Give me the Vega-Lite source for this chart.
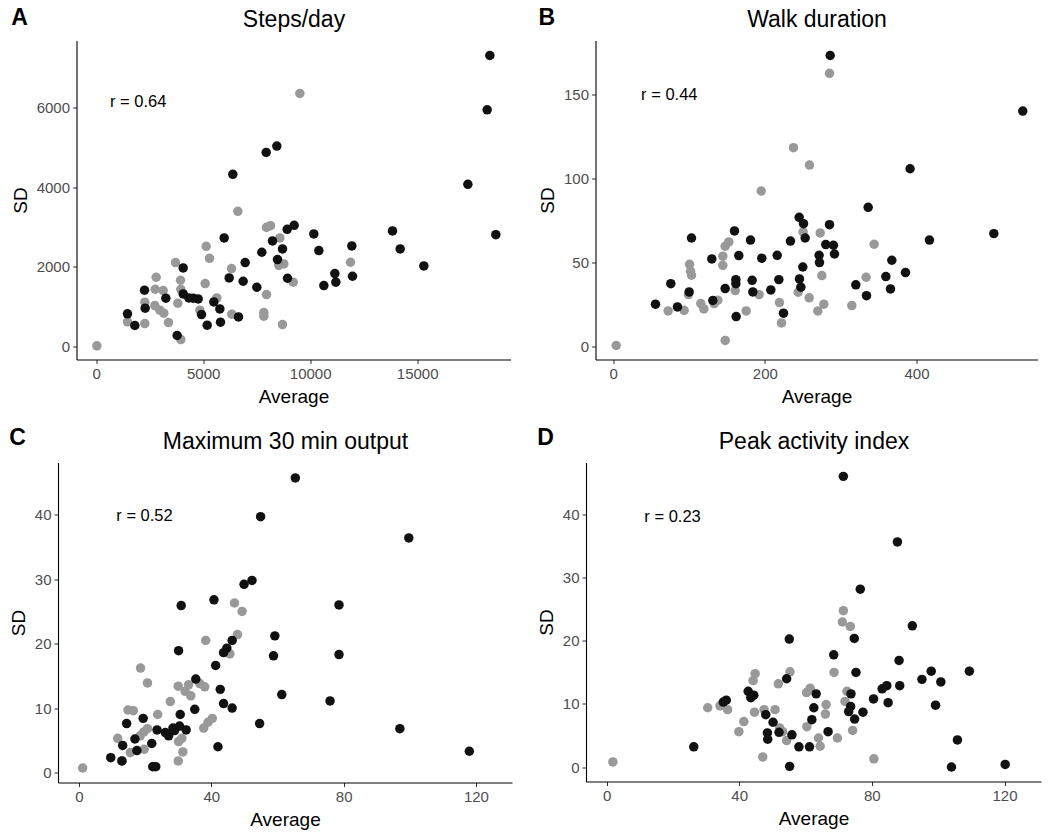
{
"$schema": "https://vega.github.io/schema/vega-lite/v6.json",
"background": "white",
"padding": {"left": 9, "top": 6.5, "right": 0, "bottom": 0},
"datasets": {
"steps": [
{"avg":9517,"sd":6351,"group":"G1"},{"avg":6620,"sd":3389,"group":"G1"},{"avg":7960,"sd":2987,"group":"G1"},{"avg":8146,"sd":3029,"group":"G1"},{"avg":8583,"sd":2720,"group":"G1"},{"avg":8536,"sd":2033,"group":"G1"},{"avg":8769,"sd":2067,"group":"G1"},{"avg":9206,"sd":1607,"group":"G1"},{"avg":11885,"sd":2109,"group":"G1"},{"avg":7960,"sd":1297,"group":"G1"},{"avg":7835,"sd":845,"group":"G1"},{"avg":7835,"sd":753,"group":"G1"},{"avg":8707,"sd":544,"group":"G1"},{"avg":6324,"sd":1950,"group":"G1"},{"avg":6340,"sd":803,"group":"G1"},{"avg":5639,"sd":1213,"group":"G1"},{"avg":5296,"sd":2209,"group":"G1"},{"avg":5140,"sd":2510,"group":"G1"},{"avg":5093,"sd":1573,"group":"G1"},{"avg":4844,"sd":904,"group":"G1"},{"avg":3941,"sd":1657,"group":"G1"},{"avg":3956,"sd":1431,"group":"G1"},{"avg":3707,"sd":2100,"group":"G1"},{"avg":3816,"sd":1079,"group":"G1"},{"avg":3956,"sd":167,"group":"G1"},{"avg":2804,"sd":1732,"group":"G1"},{"avg":2757,"sd":1431,"group":"G1"},{"avg":3131,"sd":1397,"group":"G1"},{"avg":2274,"sd":1105,"group":"G1"},{"avg":2741,"sd":1021,"group":"G1"},{"avg":2975,"sd":904,"group":"G1"},{"avg":3162,"sd":828,"group":"G1"},{"avg":3380,"sd":594,"group":"G1"},{"avg":2274,"sd":569,"group":"G1"},{"avg":1464,"sd":611,"group":"G1"},{"avg":31,"sd":8,"group":"G1"},
{"avg":18396,"sd":7305,"group":"G2"},{"avg":18271,"sd":5941,"group":"G2"},{"avg":17368,"sd":4067,"group":"G2"},{"avg":18676,"sd":2803,"group":"G2"},{"avg":13847,"sd":2895,"group":"G2"},{"avg":14206,"sd":2444,"group":"G2"},{"avg":15312,"sd":2017,"group":"G2"},{"avg":11947,"sd":2519,"group":"G2"},{"avg":11978,"sd":1757,"group":"G2"},{"avg":11153,"sd":1824,"group":"G2"},{"avg":11199,"sd":1607,"group":"G2"},{"avg":10639,"sd":1523,"group":"G2"},{"avg":10171,"sd":2820,"group":"G2"},{"avg":10405,"sd":2402,"group":"G2"},{"avg":9252,"sd":3038,"group":"G2"},{"avg":8925,"sd":2937,"group":"G2"},{"avg":8707,"sd":2444,"group":"G2"},{"avg":8240,"sd":2644,"group":"G2"},{"avg":8474,"sd":2176,"group":"G2"},{"avg":8941,"sd":1707,"group":"G2"},{"avg":7741,"sd":2360,"group":"G2"},{"avg":7508,"sd":1481,"group":"G2"},{"avg":6963,"sd":2100,"group":"G2"},{"avg":6869,"sd":1632,"group":"G2"},{"avg":6215,"sd":1715,"group":"G2"},{"avg":5981,"sd":2720,"group":"G2"},{"avg":6386,"sd":4318,"group":"G2"},{"avg":7944,"sd":4870,"group":"G2"},{"avg":8442,"sd":5029,"group":"G2"},{"avg":6651,"sd":736,"group":"G2"},{"avg":5810,"sd":603,"group":"G2"},{"avg":5779,"sd":937,"group":"G2"},{"avg":5498,"sd":1113,"group":"G2"},{"avg":5187,"sd":527,"group":"G2"},{"avg":4922,"sd":795,"group":"G2"},{"avg":4766,"sd":1188,"group":"G2"},{"avg":4533,"sd":1205,"group":"G2"},{"avg":4330,"sd":1213,"group":"G2"},{"avg":4065,"sd":1314,"group":"G2"},{"avg":4065,"sd":1967,"group":"G2"},{"avg":3785,"sd":268,"group":"G2"},{"avg":3255,"sd":1205,"group":"G2"},{"avg":2290,"sd":954,"group":"G2"},{"avg":2259,"sd":1406,"group":"G2"},{"avg":1807,"sd":519,"group":"G2"},{"avg":1464,"sd":812,"group":"G2"}
],
"walk": [
{"avg":285.3,"sd":162.3,"group":"G1"},{"avg":237.8,"sd":118.2,"group":"G1"},{"avg":258.9,"sd":107.9,"group":"G1"},{"avg":195.2,"sd":92.5,"group":"G1"},{"avg":344.2,"sd":60.9,"group":"G1"},{"avg":273.0,"sd":67.6,"group":"G1"},{"avg":250.5,"sd":68.2,"group":"G1"},{"avg":275.2,"sd":42.3,"group":"G1"},{"avg":333.6,"sd":41.3,"group":"G1"},{"avg":314.7,"sd":24.5,"group":"G1"},{"avg":277.8,"sd":25.3,"group":"G1"},{"avg":269.9,"sd":21.3,"group":"G1"},{"avg":258.5,"sd":29.1,"group":"G1"},{"avg":244.0,"sd":32.4,"group":"G1"},{"avg":219.3,"sd":26.3,"group":"G1"},{"avg":222.0,"sd":14.2,"group":"G1"},{"avg":192.5,"sd":31.0,"group":"G1"},{"avg":175.4,"sd":21.3,"group":"G1"},{"avg":160.9,"sd":33.4,"group":"G1"},{"avg":147.7,"sd":3.8,"group":"G1"},{"avg":152.5,"sd":62.3,"group":"G1"},{"avg":147.7,"sd":59.7,"group":"G1"},{"avg":144.6,"sd":53.8,"group":"G1"},{"avg":144.6,"sd":48.4,"group":"G1"},{"avg":138.0,"sd":27.7,"group":"G1"},{"avg":133.2,"sd":25.7,"group":"G1"},{"avg":115.6,"sd":25.7,"group":"G1"},{"avg":119.6,"sd":22.5,"group":"G1"},{"avg":100.7,"sd":49.0,"group":"G1"},{"avg":102.0,"sd":44.9,"group":"G1"},{"avg":103.3,"sd":42.5,"group":"G1"},{"avg":99.3,"sd":31.0,"group":"G1"},{"avg":93.6,"sd":21.7,"group":"G1"},{"avg":72.5,"sd":21.3,"group":"G1"},{"avg":4.0,"sd":0.8,"group":"G1"},
{"avg":286.2,"sd":172.9,"group":"G2"},{"avg":540.2,"sd":139.9,"group":"G2"},{"avg":391.6,"sd":105.7,"group":"G2"},{"avg":336.3,"sd":82.8,"group":"G2"},{"avg":502.0,"sd":67.2,"group":"G2"},{"avg":417.1,"sd":63.4,"group":"G2"},{"avg":367.5,"sd":51.4,"group":"G2"},{"avg":385.5,"sd":44.1,"group":"G2"},{"avg":359.6,"sd":41.7,"group":"G2"},{"avg":365.7,"sd":34.4,"group":"G2"},{"avg":320.0,"sd":36.8,"group":"G2"},{"avg":334.1,"sd":30.4,"group":"G2"},{"avg":285.3,"sd":72.5,"group":"G2"},{"avg":280.4,"sd":60.7,"group":"G2"},{"avg":290.5,"sd":60.3,"group":"G2"},{"avg":291.9,"sd":55.1,"group":"G2"},{"avg":271.6,"sd":54.3,"group":"G2"},{"avg":272.1,"sd":50.0,"group":"G2"},{"avg":245.3,"sd":76.9,"group":"G2"},{"avg":251.0,"sd":73.1,"group":"G2"},{"avg":253.2,"sd":64.6,"group":"G2"},{"avg":233.8,"sd":62.8,"group":"G2"},{"avg":250.1,"sd":47.4,"group":"G2"},{"avg":245.7,"sd":40.3,"group":"G2"},{"avg":247.5,"sd":35.4,"group":"G2"},{"avg":224.6,"sd":20.0,"group":"G2"},{"avg":216.3,"sd":54.3,"group":"G2"},{"avg":218.5,"sd":39.9,"group":"G2"},{"avg":207.9,"sd":33.8,"group":"G2"},{"avg":196.0,"sd":52.6,"group":"G2"},{"avg":183.3,"sd":39.5,"group":"G2"},{"avg":184.2,"sd":32.6,"group":"G2"},{"avg":181.1,"sd":63.4,"group":"G2"},{"avg":160.0,"sd":68.8,"group":"G2"},{"avg":165.7,"sd":54.2,"group":"G2"},{"avg":130.1,"sd":52.2,"group":"G2"},{"avg":161.8,"sd":39.9,"group":"G2"},{"avg":161.8,"sd":37.5,"group":"G2"},{"avg":147.7,"sd":34.6,"group":"G2"},{"avg":162.2,"sd":18.0,"group":"G2"},{"avg":131.4,"sd":27.5,"group":"G2"},{"avg":100.2,"sd":32.6,"group":"G2"},{"avg":103.3,"sd":64.6,"group":"G2"},{"avg":76.0,"sd":37.5,"group":"G2"},{"avg":84.8,"sd":23.7,"group":"G2"},{"avg":55.8,"sd":25.3,"group":"G2"}
],
"max30": [
{"avg":47.0,"sd":26.3,"group":"G1"},{"avg":49.3,"sd":25.0,"group":"G1"},{"avg":47.9,"sd":21.4,"group":"G1"},{"avg":45.6,"sd":18.4,"group":"G1"},{"avg":38.3,"sd":20.5,"group":"G1"},{"avg":18.6,"sd":16.2,"group":"G1"},{"avg":20.7,"sd":13.9,"group":"G1"},{"avg":30.0,"sd":13.4,"group":"G1"},{"avg":32.1,"sd":12.6,"group":"G1"},{"avg":33.1,"sd":13.6,"group":"G1"},{"avg":33.8,"sd":11.9,"group":"G1"},{"avg":36.5,"sd":13.8,"group":"G1"},{"avg":38.0,"sd":13.3,"group":"G1"},{"avg":27.6,"sd":11.0,"group":"G1"},{"avg":23.8,"sd":9.0,"group":"G1"},{"avg":14.8,"sd":9.7,"group":"G1"},{"avg":16.4,"sd":9.6,"group":"G1"},{"avg":40.3,"sd":8.4,"group":"G1"},{"avg":39.0,"sd":7.8,"group":"G1"},{"avg":37.7,"sd":6.9,"group":"G1"},{"avg":30.0,"sd":1.8,"group":"G1"},{"avg":31.4,"sd":3.2,"group":"G1"},{"avg":30.1,"sd":4.8,"group":"G1"},{"avg":31.1,"sd":5.3,"group":"G1"},{"avg":20.7,"sd":6.8,"group":"G1"},{"avg":19.6,"sd":6.3,"group":"G1"},{"avg":18.5,"sd":5.7,"group":"G1"},{"avg":11.7,"sd":5.3,"group":"G1"},{"avg":19.7,"sd":3.6,"group":"G1"},{"avg":15.5,"sd":3.1,"group":"G1"},{"avg":12.9,"sd":1.8,"group":"G1"},{"avg":1.1,"sd":0.7,"group":"G1"},
{"avg":65.4,"sd":45.7,"group":"G2"},{"avg":54.9,"sd":39.7,"group":"G2"},{"avg":99.7,"sd":36.4,"group":"G2"},{"avg":52.3,"sd":29.8,"group":"G2"},{"avg":49.9,"sd":29.2,"group":"G2"},{"avg":78.6,"sd":26.0,"group":"G2"},{"avg":30.9,"sd":25.9,"group":"G2"},{"avg":40.8,"sd":26.8,"group":"G2"},{"avg":59.2,"sd":21.2,"group":"G2"},{"avg":58.8,"sd":18.1,"group":"G2"},{"avg":78.6,"sd":18.3,"group":"G2"},{"avg":30.1,"sd":18.9,"group":"G2"},{"avg":46.3,"sd":20.5,"group":"G2"},{"avg":44.7,"sd":19.3,"group":"G2"},{"avg":43.7,"sd":18.6,"group":"G2"},{"avg":41.3,"sd":16.6,"group":"G2"},{"avg":35.3,"sd":14.5,"group":"G2"},{"avg":42.7,"sd":12.9,"group":"G2"},{"avg":61.3,"sd":12.1,"group":"G2"},{"avg":43.7,"sd":10.7,"group":"G2"},{"avg":46.3,"sd":10.0,"group":"G2"},{"avg":75.9,"sd":11.1,"group":"G2"},{"avg":35.0,"sd":9.8,"group":"G2"},{"avg":30.6,"sd":9.0,"group":"G2"},{"avg":54.6,"sd":7.6,"group":"G2"},{"avg":97.0,"sd":6.8,"group":"G2"},{"avg":118.0,"sd":3.3,"group":"G2"},{"avg":42.0,"sd":4.0,"group":"G2"},{"avg":19.4,"sd":8.4,"group":"G2"},{"avg":14.4,"sd":7.6,"group":"G2"},{"avg":23.6,"sd":6.6,"group":"G2"},{"avg":26.1,"sd":6.2,"group":"G2"},{"avg":27.1,"sd":5.7,"group":"G2"},{"avg":28.4,"sd":6.9,"group":"G2"},{"avg":30.4,"sd":7.2,"group":"G2"},{"avg":28.9,"sd":6.5,"group":"G2"},{"avg":32.4,"sd":6.6,"group":"G2"},{"avg":16.9,"sd":5.2,"group":"G2"},{"avg":22.0,"sd":4.5,"group":"G2"},{"avg":13.2,"sd":4.2,"group":"G2"},{"avg":17.5,"sd":3.4,"group":"G2"},{"avg":9.6,"sd":2.3,"group":"G2"},{"avg":13.0,"sd":1.8,"group":"G2"},{"avg":22.3,"sd":0.9,"group":"G2"},{"avg":23.2,"sd":0.9,"group":"G2"}
],
"peak": [
{"avg":71.4,"sd":24.8,"group":"G1"},{"avg":71.1,"sd":23.0,"group":"G1"},{"avg":73.5,"sd":22.3,"group":"G1"},{"avg":68.6,"sd":15.0,"group":"G1"},{"avg":72.5,"sd":12.0,"group":"G1"},{"avg":71.9,"sd":10.4,"group":"G1"},{"avg":74.2,"sd":5.8,"group":"G1"},{"avg":69.6,"sd":4.6,"group":"G1"},{"avg":66.2,"sd":9.9,"group":"G1"},{"avg":66.0,"sd":8.4,"group":"G1"},{"avg":61.4,"sd":12.5,"group":"G1"},{"avg":60.3,"sd":11.8,"group":"G1"},{"avg":60.4,"sd":6.4,"group":"G1"},{"avg":63.9,"sd":4.6,"group":"G1"},{"avg":64.4,"sd":3.3,"group":"G1"},{"avg":80.6,"sd":1.3,"group":"G1"},{"avg":55.3,"sd":15.1,"group":"G1"},{"avg":51.8,"sd":13.2,"group":"G1"},{"avg":50.8,"sd":9.1,"group":"G1"},{"avg":47.5,"sd":9.1,"group":"G1"},{"avg":52.2,"sd":6.2,"group":"G1"},{"avg":53.1,"sd":5.6,"group":"G1"},{"avg":54.3,"sd":4.2,"group":"G1"},{"avg":47.1,"sd":1.6,"group":"G1"},{"avg":44.8,"sd":14.8,"group":"G1"},{"avg":44.2,"sd":13.7,"group":"G1"},{"avg":44.6,"sd":8.7,"group":"G1"},{"avg":41.4,"sd":7.2,"group":"G1"},{"avg":39.9,"sd":5.6,"group":"G1"},{"avg":30.5,"sd":9.4,"group":"G1"},{"avg":34.2,"sd":9.7,"group":"G1"},{"avg":36.5,"sd":9.1,"group":"G1"},{"avg":1.9,"sd":0.8,"group":"G1"},
{"avg":71.4,"sd":46.1,"group":"G2"},{"avg":87.7,"sd":35.7,"group":"G2"},{"avg":76.5,"sd":28.2,"group":"G2"},{"avg":92.2,"sd":22.4,"group":"G2"},{"avg":55.1,"sd":20.3,"group":"G2"},{"avg":74.7,"sd":20.4,"group":"G2"},{"avg":68.5,"sd":17.8,"group":"G2"},{"avg":88.2,"sd":16.9,"group":"G2"},{"avg":109.4,"sd":15.2,"group":"G2"},{"avg":97.9,"sd":15.2,"group":"G2"},{"avg":95.1,"sd":13.9,"group":"G2"},{"avg":100.8,"sd":13.5,"group":"G2"},{"avg":75.2,"sd":15.0,"group":"G2"},{"avg":88.4,"sd":12.9,"group":"G2"},{"avg":84.5,"sd":12.9,"group":"G2"},{"avg":83.1,"sd":12.4,"group":"G2"},{"avg":80.5,"sd":10.8,"group":"G2"},{"avg":84.9,"sd":10.2,"group":"G2"},{"avg":99.2,"sd":9.8,"group":"G2"},{"avg":54.3,"sd":14.0,"group":"G2"},{"avg":73.7,"sd":11.6,"group":"G2"},{"avg":63.2,"sd":11.6,"group":"G2"},{"avg":73.6,"sd":9.6,"group":"G2"},{"avg":73.0,"sd":8.8,"group":"G2"},{"avg":77.3,"sd":8.7,"group":"G2"},{"avg":74.8,"sd":7.6,"group":"G2"},{"avg":62.5,"sd":9.4,"group":"G2"},{"avg":61.9,"sd":7.5,"group":"G2"},{"avg":66.8,"sd":5.6,"group":"G2"},{"avg":61.2,"sd":3.2,"group":"G2"},{"avg":58.0,"sd":3.2,"group":"G2"},{"avg":55.9,"sd":5.1,"group":"G2"},{"avg":55.2,"sd":0.1,"group":"G2"},{"avg":52.0,"sd":5.5,"group":"G2"},{"avg":50.2,"sd":7.1,"group":"G2"},{"avg":48.0,"sd":8.3,"group":"G2"},{"avg":48.5,"sd":5.4,"group":"G2"},{"avg":48.6,"sd":4.4,"group":"G2"},{"avg":42.7,"sd":12.0,"group":"G2"},{"avg":44.4,"sd":11.4,"group":"G2"},{"avg":43.5,"sd":11.0,"group":"G2"},{"avg":35.2,"sd":10.3,"group":"G2"},{"avg":36.1,"sd":10.6,"group":"G2"},{"avg":26.3,"sd":3.2,"group":"G2"},{"avg":104.0,"sd":0.0,"group":"G2"},{"avg":105.8,"sd":4.3,"group":"G2"},{"avg":120.2,"sd":0.4,"group":"G2"}
]
},
"center": true,
"spacing": 20,
"vconcat": [
{"spacing": 27, "hconcat": [
{"width": 434, "height": 319,
 "title": {"text": "A", "anchor": "start", "frame": "bounds", "fontSize": 23, "fontWeight": "bold", "offset": 0, "baseline": "alphabetic", "dy": 39},
 "layer": [
  {"data": {"name": "steps"}, "mark": {"type": "circle", "size": 90, "opacity": 1},
   "encoding": {
    "x": {"field": "avg", "type": "quantitative", "scale": {"domain": [-919, 19361], "nice": false, "zero": false}, "axis": {"values": [0, 5000, 10000, 15000], "format": "d", "title": "Average"}},
    "y": {"field": "sd", "type": "quantitative", "scale": {"domain": [-335, 7682], "nice": false, "zero": false}, "axis": {"values": [0, 2000, 4000, 6000], "format": "d", "title": "SD"}},
    "color": {"field": "group", "type": "nominal", "scale": {"domain": ["G1", "G2"], "range": ["#999999", "#111111"]}, "legend": null}}},
  {"data": {"values": [{}]}, "mark": {"type": "text", "fontSize": 16.5, "color": "black", "align": "center", "baseline": "middle"},
   "encoding": {
    "x": {"datum": 1960, "type": "quantitative", "scale": {"domain": [-919, 19361], "nice": false, "zero": false}, "axis": {"orient": "top", "title": "Steps/day", "domain": false, "ticks": false, "labels": false, "titleFontSize": 23, "titlePadding": 14, "titleBaseline": "alphabetic"}},
    "y": {"datum": 6130, "type": "quantitative"},
    "text": {"value": "r = 0.64"}}}
 ],
 "resolve": {"axis": {"x": "independent"}}},
{"width": 442, "height": 319,
 "title": {"text": "B", "anchor": "start", "frame": "bounds", "fontSize": 23, "fontWeight": "bold", "offset": 0, "baseline": "alphabetic", "dy": 39},
 "layer": [
  {"data": {"name": "walk"}, "mark": {"type": "circle", "size": 90, "opacity": 1},
   "encoding": {
    "x": {"field": "avg", "type": "quantitative", "scale": {"domain": [-23.3, 559.6], "nice": false, "zero": false}, "axis": {"values": [0, 200, 400], "format": "d", "title": "Average"}},
    "y": {"field": "sd", "type": "quantitative", "scale": {"domain": [-7.5, 181.8], "nice": false, "zero": false}, "axis": {"values": [0, 50, 100, 150], "format": "d", "title": "SD"}},
    "color": {"field": "group", "type": "nominal", "scale": {"domain": ["G1", "G2"], "range": ["#999999", "#111111"]}, "legend": null}}},
  {"data": {"values": [{}]}, "mark": {"type": "text", "fontSize": 16.5, "color": "black", "align": "center", "baseline": "middle"},
   "encoding": {
    "x": {"datum": 74, "type": "quantitative", "scale": {"domain": [-23.3, 559.6], "nice": false, "zero": false}, "axis": {"orient": "top", "title": "Walk duration", "domain": false, "ticks": false, "labels": false, "titleFontSize": 23, "titlePadding": 14, "titleBaseline": "alphabetic"}},
    "y": {"datum": 149.2, "type": "quantitative"},
    "text": {"value": "r = 0.44"}}}
 ],
 "resolve": {"axis": {"x": "independent"}}}
]},
{"spacing": 25, "hconcat": [
{"width": 454, "height": 320,
 "title": {"text": "C", "anchor": "start", "frame": "bounds", "fontSize": 23, "fontWeight": "bold", "offset": 0, "baseline": "alphabetic", "dy": 37},
 "layer": [
  {"data": {"name": "max30"}, "mark": {"type": "circle", "size": 90, "opacity": 1},
   "encoding": {
    "x": {"field": "avg", "type": "quantitative", "scale": {"domain": [-6.35, 130.9], "nice": false, "zero": false}, "axis": {"values": [0, 40, 80, 120], "format": "d", "title": "Average"}},
    "y": {"field": "sd", "type": "quantitative", "scale": {"domain": [-1.55, 48.1], "nice": false, "zero": false}, "axis": {"values": [0, 10, 20, 30, 40], "format": "d", "title": "SD"}},
    "color": {"field": "group", "type": "nominal", "scale": {"domain": ["G1", "G2"], "range": ["#999999", "#111111"]}, "legend": null}}},
  {"data": {"values": [{}]}, "mark": {"type": "text", "fontSize": 16.5, "color": "black", "align": "center", "baseline": "middle"},
   "encoding": {
    "x": {"datum": 19.8, "type": "quantitative", "scale": {"domain": [-6.35, 130.9], "nice": false, "zero": false}, "axis": {"orient": "top", "title": "Maximum 30 min output", "domain": false, "ticks": false, "labels": false, "titleFontSize": 23, "titlePadding": 14, "titleBaseline": "alphabetic"}},
    "y": {"datum": 39.8, "type": "quantitative"},
    "text": {"value": "r = 0.52"}}}
 ],
 "resolve": {"axis": {"x": "independent"}}},
{"width": 455, "height": 319,
 "title": {"text": "D", "anchor": "start", "frame": "bounds", "fontSize": 23, "fontWeight": "bold", "offset": 0, "baseline": "alphabetic", "dy": 37},
 "layer": [
  {"data": {"name": "peak"}, "mark": {"type": "circle", "size": 90, "opacity": 1},
   "encoding": {
    "x": {"field": "avg", "type": "quantitative", "scale": {"domain": [-6.2, 131], "nice": false, "zero": false}, "axis": {"values": [0, 40, 80, 120], "format": "d", "title": "Average"}},
    "y": {"field": "sd", "type": "quantitative", "scale": {"domain": [-2.3, 48.3], "nice": false, "zero": false}, "axis": {"values": [0, 10, 20, 30, 40], "format": "d", "title": "SD"}},
    "color": {"field": "group", "type": "nominal", "scale": {"domain": ["G1", "G2"], "range": ["#999999", "#111111"]}, "legend": null}}},
  {"data": {"values": [{}]}, "mark": {"type": "text", "fontSize": 16.5, "color": "black", "align": "center", "baseline": "middle"},
   "encoding": {
    "x": {"datum": 19.9, "type": "quantitative", "scale": {"domain": [-6.2, 131], "nice": false, "zero": false}, "axis": {"orient": "top", "title": "Peak activity index", "domain": false, "ticks": false, "labels": false, "titleFontSize": 23, "titlePadding": 14, "titleBaseline": "alphabetic"}},
    "y": {"datum": 39.7, "type": "quantitative", "axis": {"orient": "right", "offset": 15, "domain": true, "domainOpacity": 0, "ticks": false, "labels": false, "title": null}},
    "text": {"value": "r = 0.23"}}}
 ],
 "resolve": {"axis": {"x": "independent", "y": "independent"}}}
]}
],
"config": {
 "view": {"stroke": null},
 "font": "Liberation Sans",
 "title": {"color": "black", "font": "Liberation Sans"},
 "axis": {"grid": false, "domainColor": "black", "domainWidth": 1.1, "tickColor": "#333333", "tickSize": 4, "tickWidth": 1, "labelColor": "#4d4d4d", "labelFontSize": 15, "labelPadding": 3, "titleFontSize": 19, "titleFontWeight": "normal", "titleColor": "black", "titlePadding": 6}
}
}
